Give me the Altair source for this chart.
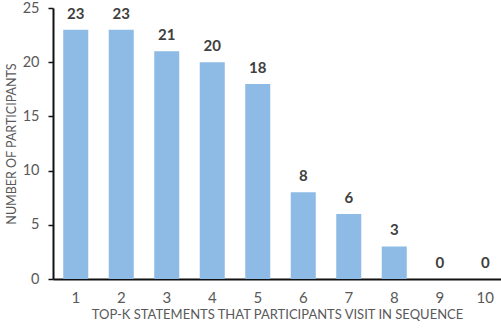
import altair as alt
import pandas as pd

categories = ["1", "2", "3", "4", "5", "6", "7", "8", "9", "10"]
values = [23, 23, 21, 20, 18, 8, 6, 3, 0, 0]

df = pd.DataFrame({"k": categories, "n": values})

FONT = "Lato"

x = alt.X("k:N", sort=categories,
          scale=alt.Scale(paddingInner=0.45, paddingOuter=0.148, align=0.76),
          axis=alt.Axis(title="TOP-K STATEMENTS THAT PARTICIPANTS VISIT IN SEQUENCE",
                        labelAngle=0, ticks=False, labelPadding=11,
                        labelFontSize=15, labelColor="#595959", labelFont=FONT,
                        titleFontSize=13, titleColor="#595959", titleFont=FONT,
                        titleFontWeight="normal", titlePadding=3, titleX=224,
                        domainColor="#111111", domainWidth=2, domainOpacity=1, grid=False))
y = alt.Y("n:Q", scale=alt.Scale(domain=[0, 25], nice=False),
          axis=alt.Axis(title="NUMBER OF PARTICIPANTS", values=[0, 5, 10, 15, 20, 25],
                        tickSize=5, tickColor="#111111", tickWidth=1.5,
                        labelFontSize=14.5, labelColor="#595959", labelFont=FONT, labelPadding=9,
                        labelBaseline="middle",
                        titleFontSize=12.5, titleColor="#595959", titleFont=FONT,
                        titleFontWeight="normal", titlePadding=4,
                        domainColor="#111111", domainWidth=2, domainOpacity=1, grid=False))

bars = alt.Chart(df).mark_bar(color="#8EBBE5").encode(x=x, y=y)
labels = alt.Chart(df).mark_text(dy=-8, baseline="bottom", fontWeight="bold",
                                 fontSize=15, color="#404040", font=FONT).encode(
    x=x, y=y, text="n:Q")

chart = (bars + labels).properties(
    width=448, height=271,
    autosize=alt.AutoSizeParams(type="none"),
    padding={"left": 53, "top": 8, "right": 0, "bottom": 53},
).configure_view(stroke=None)

chart.save("out.html", embed_options={"renderer": "svg", "actions": False})
